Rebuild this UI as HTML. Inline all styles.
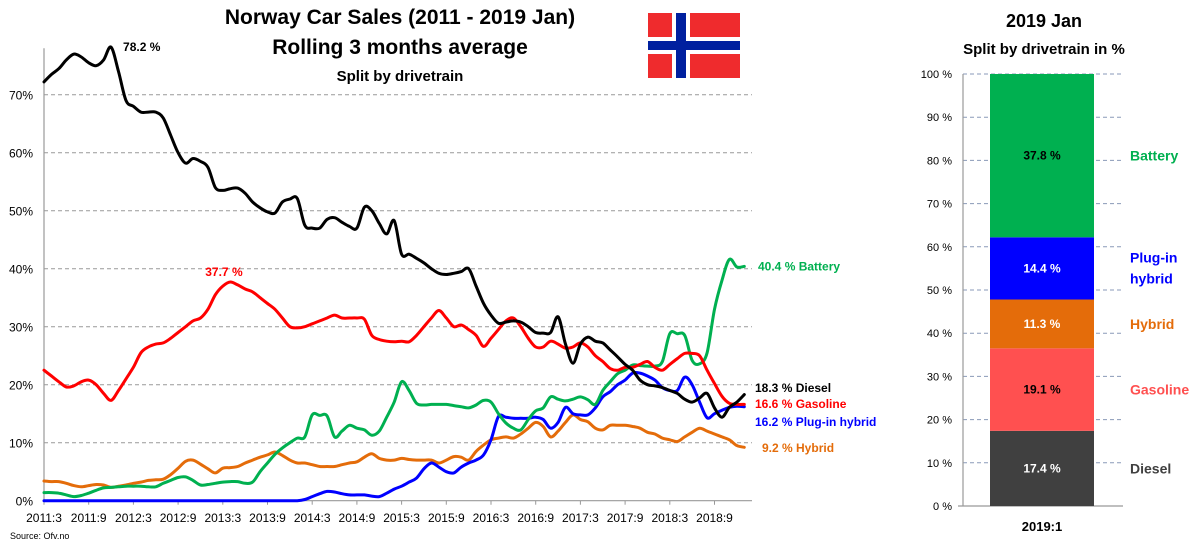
<!DOCTYPE html>
<html><head><meta charset="utf-8">
<style>
html,body{margin:0;padding:0;background:#fff;}
body{width:1200px;height:549px;overflow:hidden;font-family:"Liberation Sans",sans-serif;}
svg text{font-family:"Liberation Sans",sans-serif;}
</style></head>
<body>
<svg id="chart" width="1200" height="549" viewBox="0 0 1200 549" xmlns="http://www.w3.org/2000/svg">
  <g>
    <text x="400" y="24" text-anchor="middle" font-size="21" font-weight="bold">Norway Car Sales (2011 - 2019 Jan)</text>
    <text x="400" y="54" text-anchor="middle" font-size="21" font-weight="bold">Rolling 3 months average</text>
    <text x="400" y="81" text-anchor="middle" font-size="15" font-weight="bold">Split by drivetrain</text>
  </g>
  <g>
    <rect x="648" y="13" width="92" height="65" fill="#ef2b2d"/>
    <rect x="672" y="13" width="18" height="65" fill="#fff"/>
    <rect x="648" y="37" width="92" height="17" fill="#fff"/>
    <rect x="676" y="13" width="10" height="65" fill="#00209f"/>
    <rect x="648" y="41" width="92" height="9" fill="#00209f"/>
  </g>
  <g id="left"></g>
  <g id="right"></g>
  <text x="10" y="539" font-size="9">Source: Ofv.no</text>
</svg>
<script>
const NS="http://www.w3.org/2000/svg";
// ---- line chart data (monthly, 2011:3 .. 2019:1) ----
const xTickLabels=["2011:3","2011:9","2012:3","2012:9","2013:3","2013:9","2014:3","2014:9","2015:3","2015:9","2016:3","2016:9","2017:3","2017:9","2018:3","2018:9"];
const yTicks=[0,10,20,30,40,50,60,70];
const diesel=[72.2,73.5,74.5,76,77,76.5,75.5,75,76,78.2,74,69,68,67,67,67,66,63,60,58.2,59,58.5,57.5,54,53.5,53.8,53.9,53,51.5,50.5,49.8,49.6,51.5,52,52.1,47.5,47,47,48.5,48.8,48,47.3,47,50.6,50,47.8,46,48.3,42.5,42.5,41.8,41,40,39.2,39,39.2,39.5,40,37,34,32,30.6,30.8,31,30.8,30,29,28.9,29,31.7,27,23.7,27,28.2,27.5,27.2,26,24.8,23.5,22.5,20.8,20,19.8,19.5,19,18.5,17.5,17,17.7,18.5,16,14.4,16.1,17,18.3];
const gasoline=[22.5,21.5,20.5,19.6,19.8,20.5,20.8,20,18.5,17.3,19,21,23,25.5,26.5,27,27.2,28,29,30,31,31.5,33,35.5,37,37.7,37.2,36.5,36,35,34,33,31.5,30,29.8,30,30.5,31,31.5,32,31.5,31.5,31.5,31.3,28.5,27.8,27.5,27.4,27.5,27.4,28.5,30,31.5,32.8,31.5,30,30.3,29.5,28.5,26.6,28,29.5,31,31.5,30,28,26.5,26.5,27.5,27,26.3,26.5,27.2,26.5,25,24,22.8,22.5,23,23,23.5,24,23,22.5,23.5,24.5,25.4,25.4,25,22.5,20.2,18,16.8,16.6,16.6];
const battery=[1.4,1.4,1.3,1,0.7,0.9,1.3,1.8,2.2,2.3,2.4,2.5,2.5,2.5,2.4,2.4,3,3.5,4,4.1,3.5,2.7,2.8,3,3.2,3.3,3.3,3,3.2,5,6.5,8,9.1,10,10.8,11,14.8,14.7,14.6,11,12,13,12.5,12.2,11.3,12,14.4,17,20.5,19,16.8,16.5,16.6,16.6,16.6,16.4,16.2,16,16.5,17.3,17,15,13.4,12.5,12.2,14,15.5,16,17.9,17.5,17.2,17.5,17.9,17.4,16.6,19,20.5,21.9,22.5,23.4,23.3,23.2,23.2,24,28.8,28.8,28.5,24.2,23.6,25.5,33,38,41.6,40.3,40.4];
const plugin=[0,0,0,0,0,0,0,0,0,0,0,0,0,0,0,0,0,0,0,0,0,0,0,0,0,0,0,0,0,0,0,0,0,0,0,0.2,0.7,1.2,1.6,1.5,1.2,1.0,1.0,1.0,0.8,0.7,1.3,2,2.5,3.2,3.9,5.5,6.5,5.8,5,4.8,5.8,6.5,7,7.9,10.5,14.5,14.4,14.2,14.2,14.2,14.4,14,12.5,13.5,16.1,15,14.8,14.8,16,17.9,18.8,20,20.8,22,22,21.5,20.8,19.5,19,19,21.3,20,17,14.3,15,15.6,16.1,16.3,16.2];
const hybrid=[3.4,3.3,3.3,3,2.6,2.4,2.6,2.8,2.7,2.3,2.5,2.7,3,3.2,3.5,3.6,3.7,4.5,5.6,6.8,7,6.3,5.5,4.8,5.6,5.7,5.9,6.5,7,7.5,7.9,8.4,7.8,7,6.5,6.5,6.2,5.9,5.9,5.9,6.2,6.5,6.7,7.5,8.1,7.3,7,7,7.3,7.1,7,7,7,6.5,7,7.6,7.5,7,8.5,9.6,10.5,10.8,11,10.8,11.5,12.5,13.5,12.8,11,12,13.5,14.8,14,13.6,12.5,12.2,13,13,13,12.8,12.5,11.8,11.5,10.8,10.5,10.2,11,11.8,12.5,12,11.5,11,10.5,9.5,9.2];
// ---- stacked bar data ----
const barCategory="2019:1";
const barSeries=["Diesel","Gasoline","Hybrid","Plug-in hybrid","Battery"];
const barValues=[17.4,19.1,11.3,14.4,37.8];
const barTicks=[0,10,20,30,40,50,60,70,80,90,100];

function el(tag,attrs,parent,text){const e=document.createElementNS(NS,tag);for(const k in attrs)e.setAttribute(k,attrs[k]);if(text!==undefined)e.textContent=text;parent.appendChild(e);return e;}
function smoothPath(pts){
  let d='M'+pts[0][0].toFixed(1)+','+pts[0][1].toFixed(1);
  for(let i=0;i<pts.length-1;i++){
    const p0=pts[Math.max(0,i-1)],p1=pts[i],p2=pts[i+1],p3=pts[Math.min(pts.length-1,i+2)];
    const c1x=p1[0]+(p2[0]-p0[0])/6,c1y=p1[1]+(p2[1]-p0[1])/6;
    const c2x=p2[0]-(p3[0]-p1[0])/6,c2y=p2[1]-(p3[1]-p1[1])/6;
    d+=' C'+c1x.toFixed(1)+','+c1y.toFixed(1)+' '+c2x.toFixed(1)+','+c2y.toFixed(1)+' '+p2[0].toFixed(1)+','+p2[1].toFixed(1);
  }
  return d;
}

// ---- left chart ----
const L=document.getElementById('left');
const x0=44,xStep=7.45,y0=500.7,yPer=5.8;
const xs=i=>x0+i*xStep;
const ys=v=>y0-v*yPer;
yTicks.forEach(t=>{
  if(t>0){const g=el('line',{x1:x0,x2:752,y1:ys(t),y2:ys(t),stroke:'#999','stroke-dasharray':'4,3','stroke-width':1},L);
  
  }
  const lb=el('text',{x:33,y:ys(t)+5,'text-anchor':'end','font-size':12},L,t+'%');
  
  
});
el('line',{x1:x0,x2:x0,y1:ys(0),y2:ys(78),stroke:'#999','stroke-width':1.2},L);
el('line',{x1:x0,x2:752,y1:ys(0),y2:ys(0),stroke:'#999','stroke-width':1.2},L);
xTickLabels.forEach((lab,k)=>{
  const x=xs(k*6);
  el('line',{x1:x,x2:x,y1:ys(0),y2:ys(0)+4,stroke:'#999'},L);
  const t=el('text',{x:x,y:522,'text-anchor':'middle','font-size':12},L,lab);
  
  
});
const series=[[hybrid,'#e46c0a','hybrid'],[plugin,'#0000ff','plugin-hybrid'],[battery,'#00b050','battery'],[gasoline,'#ff0000','gasoline'],[diesel,'#000000','diesel']];
series.forEach(([arr,c,n])=>{
  const p=el('path',{d:smoothPath(arr.map((v,i)=>[xs(i),ys(v)])),fill:'none',stroke:c,'stroke-width':3,'stroke-linejoin':'round','stroke-linecap':'round'},L);
  
  
});
function lab(x,y,txt,c,name){const t=el('text',{x:x,y:y,'font-size':12,'font-weight':'bold',fill:c},L,txt);
  
  }
const last=diesel.length-1;
lab(758,ys(battery[last])+4,battery[last].toFixed(1)+' %  Battery','#00b050','end-label-battery');
lab(755,392,diesel[last].toFixed(1)+' %  Diesel','#000','end-label-diesel');
lab(755,408,gasoline[last].toFixed(1)+' %  Gasoline','#ff0000','end-label-gasoline');
lab(755,426,plugin[last].toFixed(1)+' %  Plug-in hybrid','#0000ff','end-label-plugin-hybrid');
lab(762,452,hybrid[last].toFixed(1)+' %  Hybrid','#e46c0a','end-label-hybrid');
const dmax=Math.max(...diesel),gmax=Math.max(...gasoline);
lab(xs(diesel.indexOf(dmax))+12,ys(dmax)+4,dmax.toFixed(1)+' %','#000','peak-label-diesel');
lab(xs(gasoline.indexOf(gmax))-25,ys(gmax)-6,gmax.toFixed(1)+' %','#ff0000','peak-label-gasoline');

// ---- right chart ----
const R=document.getElementById('right');
const bY0=506,bPer=4.32,bx1=990,bx2=1094;
const by=v=>bY0-v*bPer;
el('text',{x:1044,y:27,'text-anchor':'middle','font-size':18,'font-weight':'bold'},R,'2019 Jan');
el('text',{x:1044,y:54,'text-anchor':'middle','font-size':15,'font-weight':'bold'},R,'Split by drivetrain in %');
barTicks.forEach(t=>{
  if(t>0){const g=el('line',{x1:963,x2:1123,y1:by(t),y2:by(t),stroke:'#8a9ab8','stroke-dasharray':'4,3'},R);
  
  }
  const lb=el('text',{x:952,y:by(t)+4,'text-anchor':'end','font-size':11},R,t+' %');
  
  
});
el('line',{x1:963,x2:963,y1:by(0),y2:by(100),stroke:'#999','stroke-width':1.2},R);
el('line',{x1:958,x2:1123,y1:by(0),y2:by(0),stroke:'#999','stroke-width':1.2},R);
const bColors=['#404040','#ff5050','#e46c0a','#0000ff','#00b050'];
const vColors=['#fff','#000','#fff','#fff','#000'];
const lColors=['#404040','#ff5050','#e46c0a','#0000ff','#00b050'];
let cum=0;
barValues.forEach((v,i)=>{
  const r=el('rect',{x:bx1,y:by(cum+v),width:bx2-bx1,height:v*bPer,fill:bColors[i]},R);
  
  
  const t=el('text',{x:(bx1+bx2)/2,y:by(cum+v/2)+4,'text-anchor':'middle','font-size':12,'font-weight':'bold',fill:vColors[i]},R,v.toFixed(1)+' %');
  
  
  const mid=by(cum+v/2);
  if(barSeries[i]==='Plug-in hybrid'){
    el('text',{x:1130,y:mid-6,'font-size':14,'font-weight':'bold',fill:lColors[i]},R,'Plug-in');
    el('text',{x:1130,y:mid+15,'font-size':14,'font-weight':'bold',fill:lColors[i]},R,'hybrid');
  } else {
    const lt=el('text',{x:1130,y:mid+5,'font-size':14,'font-weight':'bold',fill:lColors[i]},R,barSeries[i]);
    
    
  }
  cum+=v;
});
el('text',{x:(bx1+bx2)/2,y:531,'text-anchor':'middle','font-size':13,'font-weight':'bold'},R,barCategory);
</script>
</body></html>
